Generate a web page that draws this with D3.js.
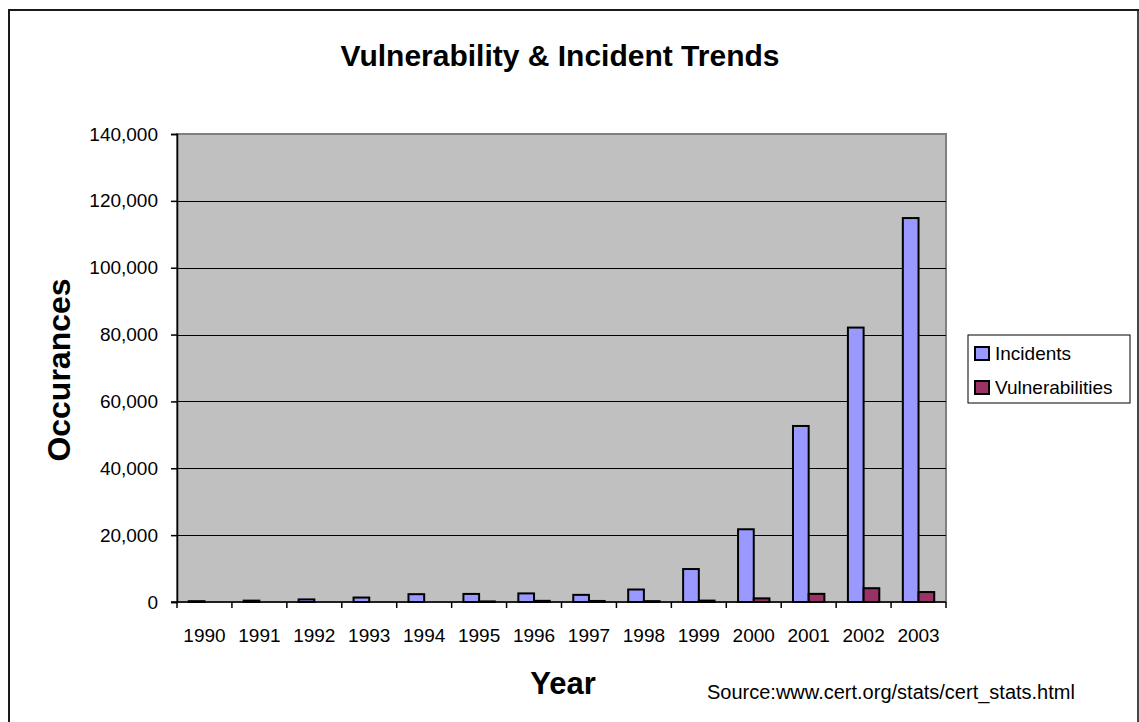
<!DOCTYPE html>
<html>
<head>
<meta charset="utf-8">
<script src="https://cdn.jsdelivr.net/npm/d3@7"></script>
<style>
  html, body { margin: 0; padding: 0; background: #fff; }
  svg { display: block; font-family: "Liberation Sans", Arial, sans-serif; }
</style>
</head>
<body>
<svg id="chart" width="1139" height="722"></svg>
<script>
// CERT/CC yearly statistics
const years = ["1990","1991","1992","1993","1994","1995","1996","1997","1998","1999","2000","2001","2002","2003"];
const incidents = [252, 406, 773, 1334, 2340, 2412, 2573, 2134, 3734, 9859, 21756, 52658, 82094, 114855];
const vulnerabilities = [0, 0, 0, 0, 0, 171, 345, 311, 262, 417, 1090, 2437, 4129, 2982];
const seriesNames = ["Incidents", "Vulnerabilities"];
const seriesColors = ["#9999ff", "#993366"];
const yTicks = [0, 20000, 40000, 60000, 80000, 100000, 120000, 140000];

const svg = d3.select("#chart");
const plot = { left: 177, right: 946, top: 134, bottom: 602 };

// outer chart frame
svg.append("path")
  .attr("d", "M9,730 L9,10 L1138,10 L1138,730")
  .attr("fill", "none").attr("stroke", "#1a1a1a").attr("stroke-width", 2);
svg.append("line").attr("x1", 1138).attr("x2", 1138).attr("y1", 11).attr("y2", 730)
  .attr("stroke", "#555").attr("stroke-width", 1.5);

const x = d3.scaleBand().domain(years).range([plot.left, plot.right]).paddingInner(0).paddingOuter(0);
const y = d3.scaleLinear().domain([0, 140000]).range([plot.bottom, plot.top]);

// plot background
svg.append("rect")
  .attr("x", plot.left).attr("y", plot.top)
  .attr("width", plot.right - plot.left).attr("height", plot.bottom - plot.top)
  .attr("fill", "#c0c0c0").attr("stroke", "#808080").attr("stroke-width", 2);

// horizontal gridlines
svg.append("g").selectAll("line")
  .data(yTicks.filter(d => d > 0 && d < 140000))
  .join("line")
  .attr("x1", plot.left).attr("x2", plot.right)
  .attr("y1", d => Math.round(y(d)) + 0.5).attr("y2", d => Math.round(y(d)) + 0.5)
  .attr("stroke", "#000").attr("stroke-width", 1);

// grouped bars: two bars per year, gap of 150% of a bar width
const gapRatio = 1.5;
const barW = x.bandwidth() / (2 + gapRatio);
const gap = barW * gapRatio / 2;
const series = [incidents, vulnerabilities];
series.forEach((vals, si) => {
  svg.append("g").selectAll("rect")
    .data(years.map((yr, i) => ({ yr, v: vals[i] })).filter(d => d.v > 0))
    .join("rect")
    .attr("x", d => x(d.yr) + gap + si * barW)
    .attr("width", barW)
    .attr("y", d => y(d.v))
    .attr("height", d => y(0) - y(d.v))
    .attr("fill", seriesColors[si])
    .attr("stroke", "#000").attr("stroke-width", 2);
});

// y axis
const yAxis = d3.axisLeft(y).tickValues(yTicks).tickSize(6).tickPadding(13)
  .tickFormat(d3.format(",d"));
const yg = svg.append("g").attr("transform", `translate(${plot.left},0)`).call(yAxis);
yg.select(".domain").attr("stroke", "#000").attr("stroke-width", 1.5);
yg.selectAll(".tick line").attr("stroke", "#000").attr("stroke-width", 1.5);
yg.selectAll(".tick text").attr("font-size", 19).attr("fill", "#000")
  .attr("font-family", "'Liberation Sans', Arial, sans-serif");

// x axis with ticks between categories
const xg = svg.append("g").attr("transform", `translate(0,${plot.bottom})`);
xg.append("line").attr("x1", plot.left - 6).attr("x2", plot.right)
  .attr("y1", 0).attr("y2", 0).attr("stroke", "#000").attr("stroke-width", 1.5);
const boundaries = years.map(d => x(d)).concat([x(years[years.length - 1]) + x.bandwidth()]);
xg.selectAll("line.tk").data(boundaries).join("line").attr("class", "tk")
  .attr("x1", d => d).attr("x2", d => d).attr("y1", 0).attr("y2", 6)
  .attr("stroke", "#000").attr("stroke-width", 1.5);
xg.selectAll("text").data(years).join("text")
  .attr("x", d => x(d) + x.bandwidth() / 2).attr("y", 40)
  .attr("text-anchor", "middle").attr("font-size", 19).attr("fill", "#000")
  .text(d => d);

// titles
svg.append("text").attr("x", 560).attr("y", 66).attr("text-anchor", "middle")
  .attr("font-size", 30).attr("font-weight", "bold").text("Vulnerability & Incident Trends");
svg.append("text").attr("transform", "translate(70,370) rotate(-90)").attr("text-anchor", "middle")
  .attr("font-size", 32).attr("font-weight", "bold").text("Occurances");
svg.append("text").attr("x", 563).attr("y", 694).attr("text-anchor", "middle")
  .attr("font-size", 31).attr("font-weight", "bold").text("Year");
svg.append("text").attr("x", 707).attr("y", 699).attr("font-size", 20)
  .text("Source:www.cert.org/stats/cert_stats.html");

// legend
const lg = svg.append("g").attr("transform", "translate(968,335)");
lg.append("rect").attr("width", 162).attr("height", 68)
  .attr("fill", "#fff").attr("stroke", "#000").attr("stroke-width", 1);
seriesNames.forEach((name, i) => {
  lg.append("rect").attr("x", 7).attr("y", 12 + i * 34).attr("width", 14).attr("height", 13)
    .attr("fill", seriesColors[i]).attr("stroke", "#000").attr("stroke-width", 2);
  lg.append("text").attr("x", 27).attr("y", 25 + i * 34).attr("font-size", 19).text(name);
});
</script>
</body>
</html>
